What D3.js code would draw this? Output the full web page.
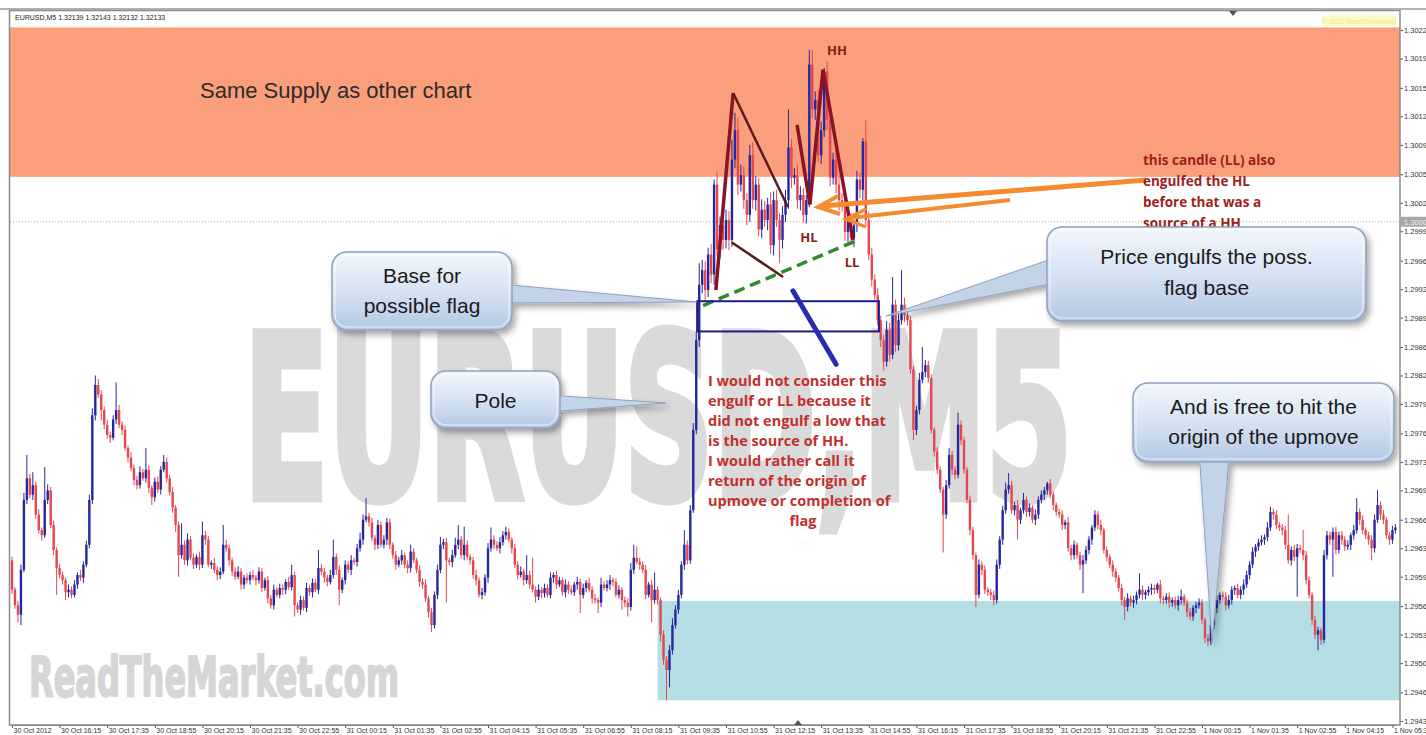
<!DOCTYPE html>
<html>
<head>
<meta charset="utf-8">
<script src="https://cdn.jsdelivr.net/npm/d3@7"></script>
<style>
  body { margin: 0; background: #fff; overflow: hidden; }
  svg { display: block; }
</style>
</head>
<body>
<div id="chart-area"></div>
<script>
// EURUSD M5, 30 Oct - 1 Nov 2012, supply / flag annotations

const W = 1426
const H = 735

// closes in points (1e-5) above 1.29000, one per M5 bar
const closePts = [
  577, 559, 548, 600, 681, 706, 687, 698, 664, 646, 640, 681, 692, 652, 623, 602,
  594, 588, 574, 577, 571, 583, 594, 591, 606, 629, 681, 779, 814, 803, 785, 768,
  756, 753, 774, 785, 768, 762, 741, 730, 718, 704, 698, 713, 706, 716, 695, 684,
  702, 693, 716, 725, 706, 690, 672, 652, 617, 629, 611, 635, 614, 606, 615, 606,
  640, 635, 606, 608, 600, 594, 598, 629, 625, 611, 598, 592, 598, 583, 591, 588,
  594, 591, 588, 598, 579, 588, 567, 559, 577, 571, 579, 577, 586, 580, 594, 559,
  554, 565, 556, 579, 574, 585, 577, 602, 598, 591, 586, 594, 615, 600, 577, 588,
  606, 600, 611, 609, 625, 635, 658, 662, 655, 637, 629, 652, 629, 635, 655, 629,
  617, 606, 611, 617, 606, 602, 621, 611, 600, 586, 583, 567, 551, 536, 571, 600,
  629, 632, 611, 609, 617, 629, 635, 617, 629, 615, 611, 594, 588, 571, 574, 591,
  625, 635, 629, 625, 632, 640, 644, 635, 625, 606, 594, 598, 588, 594, 583, 577,
  569, 577, 573, 579, 571, 591, 594, 583, 588, 574, 583, 577, 574, 583, 586, 571,
  579, 585, 577, 567, 565, 562, 583, 579, 583, 588, 586, 571, 577, 565, 562, 557,
  600, 614, 609, 606, 600, 571, 583, 565, 577, 565, 525, 496, 484, 507, 536, 554,
  571, 606, 629, 611, 669, 762, 866, 930, 947, 924, 965, 942, 1046, 971, 999, 982,
  1005, 982, 1075, 1109, 1046, 1057, 1028, 1011, 1080, 1028, 1046, 994, 1017, 1005, 1023, 976,
  1028, 1005, 982, 1011, 1028, 1089, 1054, 1057, 1028, 1034, 1011, 1028, 1185, 1133, 1144, 1080,
  1109, 1177, 1121, 1054, 1075, 1046, 1028, 1023, 991, 1005, 984, 999, 1052, 1040, 1096, 1005,
  965, 936, 918, 889, 866, 841, 878, 849, 907, 860, 889, 907, 895, 889, 832, 762,
  785, 820, 829, 837, 822, 762, 737, 716, 693, 664, 698, 733, 716, 710, 768, 750,
  716, 681, 646, 617, 571, 606, 600, 577, 574, 571, 565, 606, 635, 669, 693, 698,
  669, 675, 658, 669, 681, 667, 672, 658, 664, 681, 687, 692, 700, 687, 675, 667,
  664, 652, 655, 625, 617, 629, 617, 606, 611, 623, 635, 649, 664, 652, 646, 623,
  615, 606, 598, 591, 579, 565, 557, 567, 562, 565, 571, 577, 571, 574, 577, 579,
  577, 583, 567, 565, 569, 562, 565, 559, 565, 569, 562, 551, 546, 556, 559, 562,
  542, 521, 517, 536, 556, 565, 571, 569, 559, 565, 577, 579, 571, 577, 583, 594,
  606, 621, 627, 632, 635, 638, 649, 667, 664, 652, 649, 646, 629, 611, 623, 615,
  625, 623, 617, 588, 571, 542, 525, 530, 519, 617, 640, 635, 644, 623, 640, 635,
  627, 629, 640, 646, 667, 658, 646, 640, 635, 625, 658, 675, 664, 658, 640, 635, 646, 649
]
const firstOpen = 611

// wick lengths in points beyond the body
const upperWick = [
  4, 3, 5, 6, 8, 27, 5, 15, 4, 6, 3, 38, 7, 4, 5, 3,
  5, 4, 3, 6, 4, 5, 3, 6, 4, 5, 6, 8, 11, 7, 5, 4,
  6, 4, 5, 32, 6, 4, 5, 3, 6, 4, 5, 7, 4, 25, 5, 3,
  5, 6, 4, 8, 5, 4, 6, 3, 4, 25, 5, 7, 4, 5, 3, 6,
  16, 5, 4, 3, 6, 4, 5, 23, 6, 4, 3, 5, 6, 4, 3, 5,
  4, 6, 3, 5, 4, 3, 5, 4, 6, 3, 5, 4, 3, 6, 12, 4,
  3, 5, 4, 6, 3, 5, 4, 21, 5, 4, 3, 6, 20, 4, 5, 3,
  5, 4, 6, 3, 5, 8, 6, 21, 4, 5, 3, 6, 4, 5, 5, 4,
  3, 5, 4, 6, 3, 5, 8, 4, 3, 5, 4, 6, 3, 5, 4, 6,
  9, 4, 5, 3, 6, 8, 17, 4, 21, 5, 3, 4, 6, 3, 5, 4,
  6, 14, 5, 4, 6, 5, 6, 4, 3, 5, 4, 6, 3, 23, 5, 31,
  4, 6, 3, 5, 4, 6, 3, 5, 4, 3, 6, 4, 5, 3, 6, 4,
  5, 3, 6, 4, 5, 3, 8, 4, 5, 6, 3, 4, 5, 3, 4, 5,
  8, 15, 13, 5, 4, 6, 3, 5, 20, 4, 3, 5, 4, 6, 8, 5,
  6, 4, 17, 5, 6, 8, 10, 25, 12, 10, 8, 12, 6, 15, 10, 12,
  12, 10, 23, 20, 15, 12, 10, 8, 12, 15, 10, 8, 12, 10, 8, 14,
  10, 12, 8, 10, 12, 44, 10, 8, 12, 10, 8, 6, 17, 17, 10, 12,
  10, 4, 12, 10, 8, 12, 10, 8, 6, 10, 8, 6, 10, 8, 4, 25,
  10, 8, 6, 8, 5, 6, 10, 8, 32, 6, 10, 40, 8, 6, 5, 4,
  5, 8, 29, 6, 5, 4, 3, 5, 4, 3, 6, 8, 5, 4, 14, 5,
  4, 3, 5, 4, 3, 6, 4, 5, 3, 4, 5, 6, 4, 5, 8, 14,
  5, 4, 6, 3, 8, 4, 5, 3, 6, 4, 5, 4, 2, 5, 4, 3,
  4, 5, 3, 6, 4, 5, 3, 4, 6, 5, 4, 3, 5, 4, 6, 3,
  4, 3, 5, 4, 3, 5, 4, 6, 3, 5, 4, 19, 5, 3, 4, 5,
  4, 2, 5, 3, 4, 5, 3, 4, 5, 8, 3, 4, 5, 3, 4, 5,
  4, 3, 5, 6, 4, 5, 3, 4, 5, 6, 4, 3, 5, 4, 6, 5,
  4, 5, 3, 4, 5, 3, 6, 6, 4, 5, 3, 4, 5, 35, 4, 6,
  5, 4, 23, 5, 4, 3, 5, 4, 3, 6, 5, 4, 5, 6, 4, 5,
  4, 5, 3, 6, 16, 4, 5, 3, 4, 5, 6, 17, 4, 5, 3, 4, 5, 4
]
const lowerWick = [
  5, 4, 9, 12, 3, 5, 4, 6, 5, 4, 6, 3, 5, 4, 6, 31,
  4, 5, 9, 6, 4, 3, 5, 4, 6, 3, 4, 5, 6, 4, 12, 5,
  4, 6, 3, 5, 4, 6, 3, 5, 4, 6, 5, 4, 3, 5, 6, 9,
  5, 4, 6, 3, 5, 4, 6, 8, 25, 4, 5, 6, 3, 5, 4, 6,
  4, 6, 3, 5, 4, 6, 5, 3, 4, 6, 5, 4, 3, 6, 5, 4,
  5, 3, 6, 4, 5, 3, 6, 4, 5, 3, 4, 6, 5, 3, 4, 13,
  4, 6, 3, 5, 4, 6, 3, 5, 4, 6, 5, 3, 4, 6, 18, 4,
  5, 4, 6, 3, 5, 4, 6, 3, 5, 4, 6, 5, 3, 4, 6, 5,
  4, 6, 3, 5, 4, 6, 5, 3, 4, 6, 5, 4, 6, 8, 4, 5,
  4, 5, 49, 4, 6, 3, 5, 4, 6, 3, 5, 4, 6, 3, 5, 4,
  6, 4, 5, 3, 6, 4, 5, 3, 6, 4, 5, 3, 6, 4, 5, 3,
  7, 4, 6, 5, 3, 4, 6, 5, 3, 4, 6, 5, 3, 4, 6, 21,
  4, 5, 3, 6, 4, 12, 5, 3, 4, 6, 5, 3, 4, 11, 5, 11,
  4, 5, 3, 6, 4, 5, 3, 26, 4, 5, 8, 6, 35, 20, 5, 4,
  5, 4, 6, 5, 4, 3, 5, 8, 10, 12, 8, 10, 12, 8, 10, 12,
  10, 12, 8, 10, 12, 8, 10, 12, 8, 10, 12, 8, 10, 8, 12, 10,
  12, 8, 27, 10, 8, 10, 12, 8, 10, 12, 9, 10, 8, 10, 12, 8,
  10, 8, 12, 10, 8, 10, 12, 8, 10, 12, 8, 10, 8, 10, 12, 8,
  6, 8, 5, 6, 8, 10, 6, 8, 5, 8, 6, 5, 8, 6, 5, 12,
  6, 5, 4, 6, 5, 4, 6, 5, 4, 44, 5, 4, 6, 5, 4, 6,
  5, 4, 6, 5, 14, 4, 6, 5, 4, 6, 6, 4, 5, 6, 4, 5,
  4, 6, 23, 5, 4, 6, 5, 4, 6, 5, 4, 6, 5, 4, 6, 5,
  4, 6, 5, 4, 6, 5, 4, 6, 33, 4, 5, 6, 4, 5, 6, 4,
  5, 4, 6, 5, 4, 6, 15, 5, 4, 6, 5, 4, 6, 5, 4, 6,
  5, 4, 6, 5, 4, 6, 5, 4, 6, 5, 4, 6, 4, 5, 6, 4,
  5, 6, 6, 4, 5, 6, 4, 5, 6, 4, 5, 6, 4, 5, 6, 4,
  5, 4, 6, 5, 4, 6, 5, 4, 6, 5, 4, 6, 5, 4, 6, 5,
  46, 4, 6, 5, 4, 6, 5, 18, 6, 4, 5, 6, 43, 5, 4, 6,
  5, 4, 6, 5, 4, 6, 5, 4, 6, 14, 5, 4, 6, 5, 4, 6, 5, 4
]

// bottom time axis, one label every 16 bars
const timeLabels = [
  "30 Oct 2012", "30 Oct 16:15", "30 Oct 17:35", "30 Oct 18:55", "30 Oct 20:15",
  "30 Oct 21:35", "30 Oct 22:55", "31 Oct 00:15", "31 Oct 01:35", "31 Oct 02:55",
  "31 Oct 04:15", "31 Oct 05:35", "31 Oct 06:55", "31 Oct 08:15", "31 Oct 09:35",
  "31 Oct 10:55", "31 Oct 12:15", "31 Oct 13:35", "31 Oct 14:55", "31 Oct 16:15",
  "31 Oct 17:35", "31 Oct 18:55", "31 Oct 20:15", "31 Oct 21:35", "31 Oct 22:55",
  "1 Nov 00:15", "1 Nov 01:35", "1 Nov 02:55", "1 Nov 04:15", "1 Nov 05:35"
]

// right price axis
const priceTicks = [
  1.30225, 1.30192, 1.30158, 1.30125, 1.30092, 1.30058, 1.30025, 1.29992, 1.29958,
  1.29925, 1.29892, 1.29858, 1.29825, 1.29792, 1.29758, 1.29725, 1.29692, 1.29658,
  1.29625, 1.29592, 1.29558, 1.29525, 1.29492, 1.29458, 1.29425
]
const priceLabels = [
  "1.30225", "1.30190", "1.30155", "1.30125", "1.30090", "1.30055", "1.30025", "1.29990", "1.29960",
  "1.29925", "1.29890", "1.29860", "1.29825", "1.29790", "1.29760", "1.29730", "1.29695", "1.29660",
  "1.29630", "1.29595", "1.29560", "1.29530", "1.29500", "1.29465", "1.29430"
]

// zones: [firstBar, lastBar, topPts, bottomPts]
const supplyZone = [0, 465, 1228, 1055]
const demandZone = [217, 465, 564, 449]
const markedLinePts = 1003

// drawn lines, points as [bar, pts]
const flagZigzag = [[236.6, 924], [242.4, 1152]]
const flagSlopeA = [[242.4, 1152], [260.8, 1020]]
const flagSlopeB = [[242, 979], [259.2, 939]]
const mZigzag = [[263.9, 1115], [268.2, 1023], [272.6, 1179], [282.7, 982]]
const greenTrend = [[232.3, 906], [284.4, 982]]
const blueStroke = [[262.5, 923], [277, 838]]
const baseBox = [230.3, 291.4, 911, 876]

const toPrice = p => 1.29 + p / 100000

const svg = d3.select("#chart-area").append("svg")
  .attr("width", W)
  .attr("height", H)
  .style("font-family", "'Liberation Sans', Arial, sans-serif")

const defs = svg.append("defs")
const grad = defs.append("linearGradient")
  .attr("id", "calloutFill")
  .attr("x1", 0).attr("y1", 0).attr("x2", 0).attr("y2", 1)
grad.append("stop").attr("offset", "0%").attr("stop-color", "#f3f7fc")
grad.append("stop").attr("offset", "45%").attr("stop-color", "#d9e5f4")
grad.append("stop").attr("offset", "100%").attr("stop-color", "#b4c8e3")
const shadow = defs.append("filter")
  .attr("id", "shadow")
  .attr("x", "-20%").attr("y", "-20%").attr("width", "150%").attr("height", "160%")
shadow.append("feDropShadow")
  .attr("dx", 3).attr("dy", 4).attr("stdDeviation", 3)
  .attr("flood-color", "#000").attr("flood-opacity", 0.35)
const clip = defs.append("clipPath").attr("id", "plotClip")
clip.append("rect").attr("x", 10).attr("y", 11).attr("width", 1390).attr("height", 714)

// Scales
const x = d3.scaleLinear()
  .domain([0, 465])
  .range([12, 12 + 465 * 2.975])
const y = d3.scaleLinear()
  .domain([1.29425, 1.30225])
  .range([721, 30])

const candles = closePts.map((c, i) => {
  const o = i === 0 ? firstOpen : closePts[i - 1]
  return {
    i: i,
    o: toPrice(o),
    c: toPrice(c),
    h: toPrice(Math.max(o, c) + upperWick[i]),
    l: toPrice(Math.min(o, c) - lowerWick[i])
  }
})

const plot = svg.append("g").attr("clip-path", "url(#plotClip)")

// header strip
svg.append("text")
  .attr("x", 15).attr("y", 20)
  .attr("font-size", "7px").attr("fill", "#222")
  .text("EURUSD,M5  1.32139 1.32143 1.32132 1.32133")
svg.append("rect")
  .attr("x", 1322).attr("y", 15).attr("width", 74).attr("height", 11)
  .attr("fill", "#fbfac8")
svg.append("text")
  .attr("x", 1359).attr("y", 23.5)
  .attr("text-anchor", "middle").attr("font-size", "7px").attr("fill", "#ece98a")
  .text("\u00a9 2012 ReadTheMarket")

// zones
plot.append("rect")
  .attr("x", 10)
  .attr("y", y(toPrice(supplyZone[2])))
  .attr("width", x(supplyZone[1]) + 5 - 10)
  .attr("height", y(toPrice(supplyZone[3])) - y(toPrice(supplyZone[2])))
  .attr("fill", "#fa9e7b")
plot.append("rect")
  .attr("x", x(demandZone[0]))
  .attr("y", y(toPrice(demandZone[2])))
  .attr("width", x(demandZone[1]) + 5 - x(demandZone[0]))
  .attr("height", y(toPrice(demandZone[3])) - y(toPrice(demandZone[2])))
  .attr("fill", "#b2dee4")

// watermarks
plot.append("text")
  .attr("x", 244).attr("y", 498)
  .attr("textLength", 828).attr("lengthAdjust", "spacingAndGlyphs")
  .attr("font-family", "'Liberation Sans Narrow', 'DejaVu Sans Condensed', sans-serif")
  .attr("font-weight", "bold").attr("font-size", "226px")
  .attr("fill", "#dadada").attr("stroke", "#dadada").attr("stroke-width", 9)
  .attr("stroke-linejoin", "miter")
  .text("EURUSD,M5")
plot.append("text")
  .attr("x", 29).attr("y", 696)
  .attr("textLength", 370).attr("lengthAdjust", "spacingAndGlyphs")
  .attr("font-family", "'Liberation Sans Narrow', 'DejaVu Sans Condensed', sans-serif")
  .attr("font-weight", "bold").attr("font-size", "55px")
  .attr("fill", "#d6d6d6").attr("stroke", "#d6d6d6").attr("stroke-width", 2)
  .text("ReadTheMarket.com")

// marked horizontal line
plot.append("line")
  .attr("x1", 10).attr("x2", 1400)
  .attr("y1", y(toPrice(markedLinePts))).attr("y2", y(toPrice(markedLinePts)))
  .attr("stroke", "#a8a8a8").attr("stroke-dasharray", "1,2")

// candles
const bull = "#26269f"
const bear = "#e4474f"
const candleG = plot.append("g")
candleG.selectAll("line.wick")
  .data(candles)
  .enter().append("line")
  .attr("class", "wick")
  .attr("x1", d => x(d.i)).attr("x2", d => x(d.i))
  .attr("y1", d => y(d.h)).attr("y2", d => y(d.l))
  .attr("stroke", d => d.c >= d.o ? bull : bear)
  .attr("stroke-width", 1)
candleG.selectAll("rect.body")
  .data(candles)
  .enter().append("rect")
  .attr("class", "body")
  .attr("x", d => x(d.i) - 1.2)
  .attr("width", 2.4)
  .attr("y", d => y(Math.max(d.o, d.c)))
  .attr("height", d => Math.max(1, Math.abs(y(d.o) - y(d.c))))
  .attr("fill", d => d.c >= d.o ? bull : bear)

// drawn annotation lines
const line = d3.line().x(d => x(d[0])).y(d => y(toPrice(d[1])))
plot.append("path").attr("d", line(flagZigzag))
  .attr("fill", "none").attr("stroke", "#8a1425").attr("stroke-width", 3.5)
plot.append("path").attr("d", line(flagSlopeA))
  .attr("fill", "none").attr("stroke", "#5c1a1e").attr("stroke-width", 2.5)
plot.append("path").attr("d", line(flagSlopeB))
  .attr("fill", "none").attr("stroke", "#5c1a1e").attr("stroke-width", 2.5)
plot.append("path").attr("d", line(mZigzag))
  .attr("fill", "none").attr("stroke", "#8a1425").attr("stroke-width", 3.5)
  .attr("stroke-linejoin", "miter")
plot.append("path").attr("d", line(greenTrend))
  .attr("fill", "none").attr("stroke", "#2d8a2d").attr("stroke-width", 3.5)
  .attr("stroke-dasharray", "11,6")
plot.append("rect")
  .attr("x", x(baseBox[0])).attr("y", y(toPrice(baseBox[2])))
  .attr("width", x(baseBox[1]) - x(baseBox[0]))
  .attr("height", y(toPrice(baseBox[3])) - y(toPrice(baseBox[2])))
  .attr("fill", "none").attr("stroke", "#1c1c8a").attr("stroke-width", 2)
plot.append("path").attr("d", line(blueStroke))
  .attr("fill", "none").attr("stroke", "#2b2bb0").attr("stroke-width", 5)
  .attr("stroke-linecap", "round")

// orange arrows
const orange = "#f58a2e"
svg.append("path")
  .attr("d", "M1146,180 L822,206")
  .attr("stroke", orange).attr("stroke-width", 5).attr("fill", "none")
svg.append("path")
  .attr("d", "M838,196 L818,207 L840,214")
  .attr("stroke", orange).attr("stroke-width", 4).attr("fill", "none")
svg.append("path")
  .attr("d", "M1010,200 L850,218")
  .attr("stroke", orange).attr("stroke-width", 4).attr("fill", "none")
svg.append("path")
  .attr("d", "M866,209 L846,219 L866,227")
  .attr("stroke", orange).attr("stroke-width", 3.5).attr("fill", "none")

// swing labels
const swing = [["HH", 837, 55], ["HL", 809, 242], ["LL", 852, 267]]
svg.selectAll("text.swing")
  .data(swing)
  .enter().append("text")
  .attr("class", "swing")
  .attr("x", d => d[1]).attr("y", d => d[2])
  .attr("text-anchor", "middle")
  .attr("font-family", "'Open Sans', sans-serif")
  .attr("font-weight", "bold").attr("font-size", "13px")
  .attr("fill", "#8b1a1a")
  .text(d => d[0])

// texts
svg.append("text")
  .attr("x", 200).attr("y", 98)
  .attr("font-size", "22px").attr("fill", "#2b2b2b")
  .text("Same Supply as other chart")

const noteRight = ["this candle (LL) also", "engulfed the HL", "before that was a", "source of a HH"]
noteRight.forEach((t, i) => {
  svg.append("text")
    .attr("x", 1143).attr("y", 165 + i * 21)
    .attr("font-family", "'Open Sans', sans-serif")
    .attr("font-weight", "bold").attr("font-size", "13.5px")
    .attr("fill", "#a01d1d")
    .text(t)
})
const noteMid = ["I would not consider this", "engulf or LL because it", "did not engulf a low that",
  "is the source of HH.", "I would rather call it", "return of the origin of", "upmove or completion of"]
noteMid.forEach((t, i) => {
  svg.append("text")
    .attr("x", 708).attr("y", 386 + i * 20)
    .attr("font-family", "'Open Sans', sans-serif")
    .attr("font-weight", "bold").attr("font-size", "14.5px")
    .attr("fill", "#c2302c")
    .text(t)
})
svg.append("text")
  .attr("x", 803).attr("y", 386 + 7 * 20)
  .attr("text-anchor", "middle")
  .attr("font-family", "'Open Sans', sans-serif")
  .attr("font-weight", "bold").attr("font-size", "14.5px")
  .attr("fill", "#c2302c")
  .text("flag")

// callouts
function callout(box, pointer, lines, lineY) {
  const g = svg.append("g").attr("filter", "url(#shadow)")
  g.append("path")
    .attr("d", "M" + pointer.map(p => p.join(",")).join(" L") + " Z")
    .attr("fill", "#c3d3e8").attr("stroke", "#8ea2bd").attr("stroke-width", 1)
  g.append("rect")
    .attr("x", box[0]).attr("y", box[1])
    .attr("width", box[2] - box[0]).attr("height", box[3] - box[1])
    .attr("rx", 15).attr("ry", 15)
    .attr("fill", "url(#calloutFill)")
    .attr("stroke", "#8ea2bd").attr("stroke-width", 1.5)
  svg.append("rect")
    .attr("x", box[0] + 3).attr("y", box[1] + 3)
    .attr("width", box[2] - box[0] - 6).attr("height", box[3] - box[1] - 6)
    .attr("rx", 12).attr("ry", 12)
    .attr("fill", "none").attr("stroke", "#ffffff").attr("stroke-opacity", 0.7)
  lines.forEach((t, i) => {
    svg.append("text")
      .attr("x", (box[0] + box[2]) / 2).attr("y", lineY[i])
      .attr("text-anchor", "middle")
      .attr("font-size", "21px").attr("fill", "#1a1a1a")
      .text(t)
  })
}
callout([332, 252, 512, 330], [[500, 284], [697, 302], [500, 303]], ["Base for", "possible flag"], [283, 313])
callout([431, 371, 560, 428], [[548, 395], [666, 403], [548, 412]], ["Pole"], [408])
callout([1047, 227, 1366, 321], [[1060, 256], [886, 316], [1060, 282]], ["Price engulfs the poss.", "flag base"], [264, 295])
callout([1133, 383, 1394, 462], [[1199, 450], [1212, 642], [1230, 450]], ["And is free to hit the", "origin of the upmove"], [414, 444])

// X Axis
const xAxisCall = d3.axisBottom(x)
  .tickValues(timeLabels.map((t, i) => i * 16))
  .tickFormat((d, i) => timeLabels[i])
  .tickSize(3)
  .tickSizeOuter(0)
const xAxisG = svg.append("g")
  .attr("transform", "translate(0, 725)")
  .call(xAxisCall)
xAxisG.select(".domain").attr("stroke", "#777")
xAxisG.selectAll(".tick line").attr("stroke", "#555")
xAxisG.selectAll(".tick text")
  .attr("text-anchor", "start")
  .attr("x", 1).attr("y", 3)
  .attr("font-size", "7px").attr("fill", "#333")

// Y Axis
const yAxisCall = d3.axisRight(y)
  .tickValues(priceTicks)
  .tickFormat((d, i) => priceLabels[i])
  .tickSize(3)
  .tickSizeOuter(0)
const yAxisG = svg.append("g")
  .attr("transform", "translate(1400, 0)")
  .call(yAxisCall)
yAxisG.select(".domain").remove()
yAxisG.selectAll(".tick line").attr("stroke", "#555")
yAxisG.selectAll(".tick text")
  .attr("x", 4)
  .attr("font-size", "7.5px").attr("fill", "#333")

// marked price tag on axis
svg.append("rect")
  .attr("x", 1401).attr("y", y(toPrice(markedLinePts)) - 5)
  .attr("width", 25).attr("height", 10)
  .attr("fill", "#a9a9a9")
svg.append("text")
  .attr("x", 1404).attr("y", y(toPrice(markedLinePts)) + 3)
  .attr("font-size", "7.5px").attr("fill", "#eee")
  .text("1.30003")

// frame
svg.append("rect")
  .attr("x", 9.5).attr("y", 10.5).attr("width", 1390.5).attr("height", 714.5)
  .attr("fill", "none").attr("stroke", "#8a8a8a").attr("stroke-width", 1.5)
svg.append("line")
  .attr("x1", 0).attr("x2", W).attr("y1", 9).attr("y2", 9)
  .attr("stroke", "#b0b0b0").attr("stroke-width", 2)
svg.append("path").attr("d", "M1229,11 L1237,11 L1233,16 Z").attr("fill", "#555")
svg.append("path").attr("d", "M794,725 L802,725 L798,720 Z").attr("fill", "#555")
</script>
</body>
</html>
